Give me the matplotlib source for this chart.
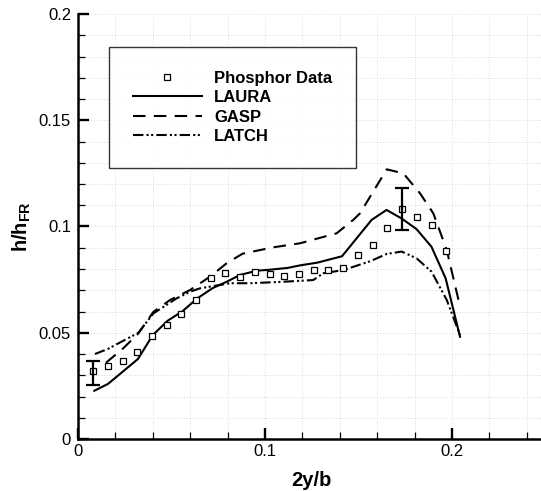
import numpy as np
import matplotlib
matplotlib.use('Agg')
import matplotlib.pyplot as plt
from matplotlib.ticker import MultipleLocator, FormatStrFormatter

plt.rcParams['font.family'] = 'Liberation Sans'
plt.rcParams['mathtext.fontset'] = 'custom'
plt.rcParams['mathtext.rm'] = 'Liberation Sans'
plt.rcParams['mathtext.bf'] = 'Liberation Sans:bold'

# datos
phos_x = [0.0082, 0.0159, 0.0239, 0.0316, 0.0396, 0.0474, 0.0552, 0.0633, 0.0710, 0.0788,
          0.0868, 0.0947, 0.1025, 0.1103, 0.1183, 0.1260, 0.1338, 0.1417, 0.1496, 0.1576,
          0.1652, 0.1733, 0.1811, 0.1891, 0.1968]
phos_y = [0.0321, 0.0344, 0.0369, 0.0408, 0.0486, 0.0537, 0.0590, 0.0656, 0.0759, 0.0781,
          0.0762, 0.0784, 0.0778, 0.0766, 0.0775, 0.0794, 0.0794, 0.0806, 0.0867, 0.0913,
          0.0994, 0.1082, 0.1045, 0.1006, 0.0885]

err_x = [0.0082, 0.1735]
err_mid = [0.0321, 0.1082]
err_low = [0.0254, 0.0984]
err_high = [0.0368, 0.1180]

laura_x = [0.0087, 0.016, 0.032, 0.040, 0.048, 0.056, 0.0635, 0.072, 0.080, 0.0866, 0.0956,
           0.103, 0.112, 0.1187, 0.128, 0.1412, 0.157, 0.165, 0.173, 0.181, 0.189, 0.1966, 0.2043]
laura_y = [0.0227, 0.0259, 0.0376, 0.0489, 0.0557, 0.0602, 0.0660, 0.0710, 0.0742, 0.0772, 0.0792,
           0.0797, 0.0805, 0.0817, 0.0830, 0.0860, 0.1031, 0.1078, 0.1038, 0.0988, 0.0905, 0.0756, 0.0481]

gasp_x = [0.015, 0.0242, 0.0323, 0.0403, 0.0492, 0.0599, 0.0706, 0.0795, 0.0880, 0.1044,
          0.1187, 0.1383, 0.1472, 0.1508, 0.1651, 0.1740, 0.1829, 0.1900, 0.1972, 0.2043]
gasp_y = [0.0359, 0.0427, 0.0497, 0.0598, 0.0654, 0.0701, 0.0764, 0.0827, 0.0872, 0.0902,
          0.0921, 0.0968, 0.1031, 0.1062, 0.1269, 0.1250, 0.1156, 0.1062, 0.0889, 0.0623]

latch_x = [0.0091, 0.016, 0.0323, 0.0403, 0.0528, 0.0599, 0.0652, 0.0813, 0.0920, 0.1098,
           0.1258, 0.1312, 0.1419, 0.1561, 0.1651, 0.1731, 0.1811, 0.1891, 0.1972, 0.2043]
latch_y = [0.0400, 0.0424, 0.0500, 0.0591, 0.0662, 0.0693, 0.0709, 0.0733, 0.0733, 0.0740,
           0.0748, 0.0780, 0.0795, 0.0836, 0.0871, 0.0882, 0.0850, 0.0787, 0.0654, 0.0489]

fig = plt.figure(figsize=(5.41, 4.91), dpi=100)
ax = fig.add_axes([78/541, 52/491, 467.5/541, 425/491])

ax.plot(phos_x, phos_y, 's', mfc='white', mec='black', mew=0.9, ms=4.5, label='Phosphor Data', zorder=4)
ax.plot(laura_x, laura_y, '-', color='black', lw=1.5, label='LAURA')
ax.plot(gasp_x, gasp_y, color='black', lw=1.5, dashes=(6, 4), label='GASP')
ax.plot(latch_x, latch_y, color='black', lw=1.5, dashes=(5, 1.5, 1, 1.2, 1, 1.5), label='LATCH')

err_x = np.array(err_x)
err_mid = np.array(err_mid)
yerr = [err_mid - np.array(err_low), np.array(err_high) - err_mid]
ax.errorbar(err_x, err_mid, yerr=yerr, fmt='none', ecolor='black', elinewidth=1.6, capsize=5, capthick=1.6, zorder=5)

ax.set_xlim(0, 0.25)
ax.set_ylim(0, 0.2)
ax.xaxis.set_major_locator(MultipleLocator(0.1))
ax.xaxis.set_minor_locator(MultipleLocator(0.02))
ax.yaxis.set_major_locator(MultipleLocator(0.05))
ax.yaxis.set_minor_locator(MultipleLocator(0.01))
ax.xaxis.set_major_formatter(FormatStrFormatter('%g'))
ax.yaxis.set_major_formatter(FormatStrFormatter('%g'))

ax.grid(True, which='both', linestyle=':', color='0.86', lw=0.7)
ax.set_axisbelow(True)

ax.spines['top'].set_visible(False)
ax.spines['right'].set_visible(False)
ax.spines['left'].set_linewidth(1.8)
ax.spines['bottom'].set_linewidth(1.8)
ax.tick_params(which='major', direction='in', length=8, width=1.7, labelsize=12)
ax.tick_params(which='minor', direction='in', length=5.2, width=0.9)
ax.tick_params(axis='y', which='major', pad=5)
ax.tick_params(axis='x', which='major', pad=3.5)

ax.set_xlabel('2y/b', fontsize=14.5, fontweight='bold')
ax.set_ylabel(r'h/h$_{\mathbf{FR}}$', fontsize=14.5, fontweight='bold')
ax.xaxis.set_label_coords(0.5, -0.075)
ax.yaxis.set_label_coords(-0.096, 0.5)

leg = ax.legend(loc='upper left', bbox_to_anchor=(109/541, 1 - 46.7/491), bbox_transform=fig.transFigure,
                borderaxespad=0, frameon=True, fancybox=False, numpoints=1,
                handlelength=4.1, handletextpad=0.75, borderpad=1.45, labelspacing=0.26,
                prop={'family': 'Liberation Sans', 'weight': 'bold', 'size': 12})
leg.get_frame().set_edgecolor('black')
leg.get_frame().set_linewidth(1.0)

fig.savefig('out.png', dpi=100)
